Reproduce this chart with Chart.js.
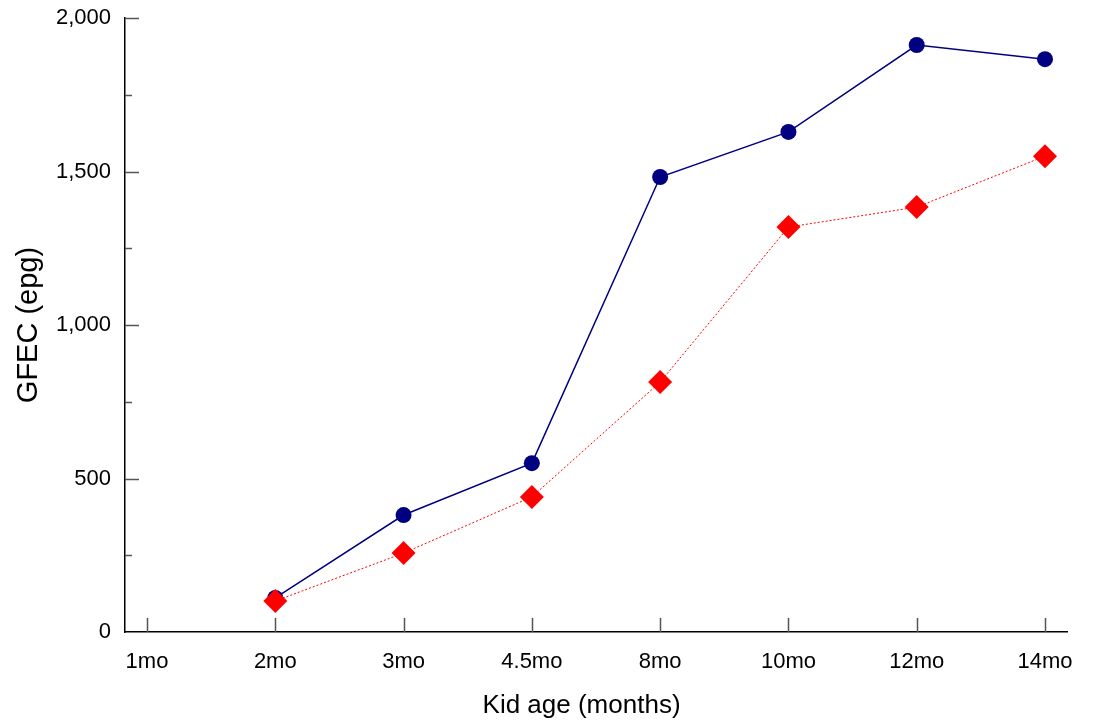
<!DOCTYPE html>
<html>
<head>
<meta charset="utf-8">
<script src="https://cdn.jsdelivr.net/npm/chart.js@4"></script>
<style>
  body { margin: 0; background: #fff; }
  #wrap { width: 1098px; height: 727px; }
</style>
</head>
<body>
<div id="wrap"><canvas id="myChart"></canvas></div>
<script>
// Data
const ageLabels = ["1mo", "2mo", "3mo", "4.5mo", "8mo", "10mo", "12mo", "14mo"];
const blueValues = [null, 111, 381, 550, 1482, 1629, 1912, 1866];
const redValues = [null, 101, 257, 440, 814, 1319, 1384, 1550];
const yTicks = [0, 500, 1000, 1500, 2000];
const yMinorTicks = [250, 750, 1250, 1750];

const toPoints = function (values) {
    return values
        .map((v, i) => ({ x: i, y: v }))
        .filter((p) => p.y !== null);
};

// Tick marks drawn inward from the axes
const innerTicks = {
    id: "innerTicks",
    afterDatasetsDraw(chart) {
        const ctx = chart.ctx;
        const x = chart.scales.x;
        const y = chart.scales.y;
        const area = chart.chartArea;
        ctx.save();
        ctx.strokeStyle = "#555";
        ctx.lineWidth = 1.5;
        ctx.beginPath();
        ageLabels.forEach((lbl, i) => {
            const px = Math.round(x.getPixelForValue(i)) + 0.5;
            ctx.moveTo(px, area.bottom);
            ctx.lineTo(px, area.bottom - 14);
        });
        yTicks.slice(1).forEach((v) => {
            const py = Math.round(y.getPixelForValue(v)) + 0.5;
            ctx.moveTo(area.left, py);
            ctx.lineTo(area.left + 14, py);
        });
        yMinorTicks.forEach((v) => {
            const py = Math.round(y.getPixelForValue(v)) + 0.5;
            ctx.moveTo(area.left, py);
            ctx.lineTo(area.left + 7, py);
        });
        ctx.stroke();
        ctx.restore();
    },
};

Chart.defaults.font.family = "'Liberation Sans', Arial, sans-serif";
Chart.defaults.color = "#000";

const ctx = document.getElementById("myChart");

new Chart(ctx, {
    type: "line",
    data: {
        datasets: [
            {
                label: "Series A",
                data: toPoints(blueValues),
                borderColor: "#000080",
                backgroundColor: "#000080",
                borderWidth: 1.5,
                pointStyle: "circle",
                pointRadius: 8,
                pointBorderWidth: 0,
                order: 1,
            },
            {
                label: "Series B",
                data: toPoints(redValues),
                borderColor: "#ff0000",
                backgroundColor: "#ff0000",
                borderWidth: 1,
                borderDash: [2, 2],
                pointStyle: "rectRot",
                pointRadius: 12,
                pointBorderWidth: 0,
                order: 0,
            },
        ],
    },
    options: {
        responsive: true,
        maintainAspectRatio: false,
        animation: false,
        layout: { padding: { top: 18, right: 31, left: 0, bottom: 0 } },
        plugins: {
            legend: { display: false },
            tooltip: { enabled: false },
        },
        scales: {
            x: {
                type: "linear",
                min: -0.1715,
                max: 7.1715,
                afterFit: (scale) => {
                    scale.height = 95;
                    scale.paddingLeft = 0;
                    scale.paddingRight = 0;
                },
                afterBuildTicks: (scale) => {
                    scale.ticks = ageLabels.map((l, i) => ({ value: i }));
                },
                ticks: {
                    callback: (v) => ageLabels[v],
                    font: { size: 22 },
                    padding: 17,
                    maxRotation: 0,
                    autoSkip: false,
                },
                grid: { display: false, drawTicks: false },
                border: { display: true, color: "#000", width: 1.5 },
                title: {
                    display: true,
                    // trailing spaces nudge the title left, as in the original
                    text: "Kid age (months)    ",
                    font: { size: 26 },
                    padding: { top: 0, bottom: 6 },
                },
            },
            y: {
                min: 0,
                max: 2000,
                afterFit: (scale) => {
                    scale.width = 125;
                    scale.paddingTop = 0;
                    scale.paddingBottom = 0;
                },
                afterBuildTicks: (scale) => {
                    scale.ticks = yTicks.map((v) => ({ value: v }));
                },
                ticks: {
                    callback: (v) => v.toLocaleString("en-US"),
                    font: { size: 22 },
                    padding: 14,
                },
                grid: { display: false, drawTicks: false },
                border: { display: true, color: "#000", width: 1.5 },
                title: {
                    display: true,
                    text: "GFEC (epg)",
                    font: { size: 29 },
                    padding: { top: 12, bottom: 0 },
                },
            },
        },
    },
    plugins: [innerTicks],
});
</script>
</body>
</html>
